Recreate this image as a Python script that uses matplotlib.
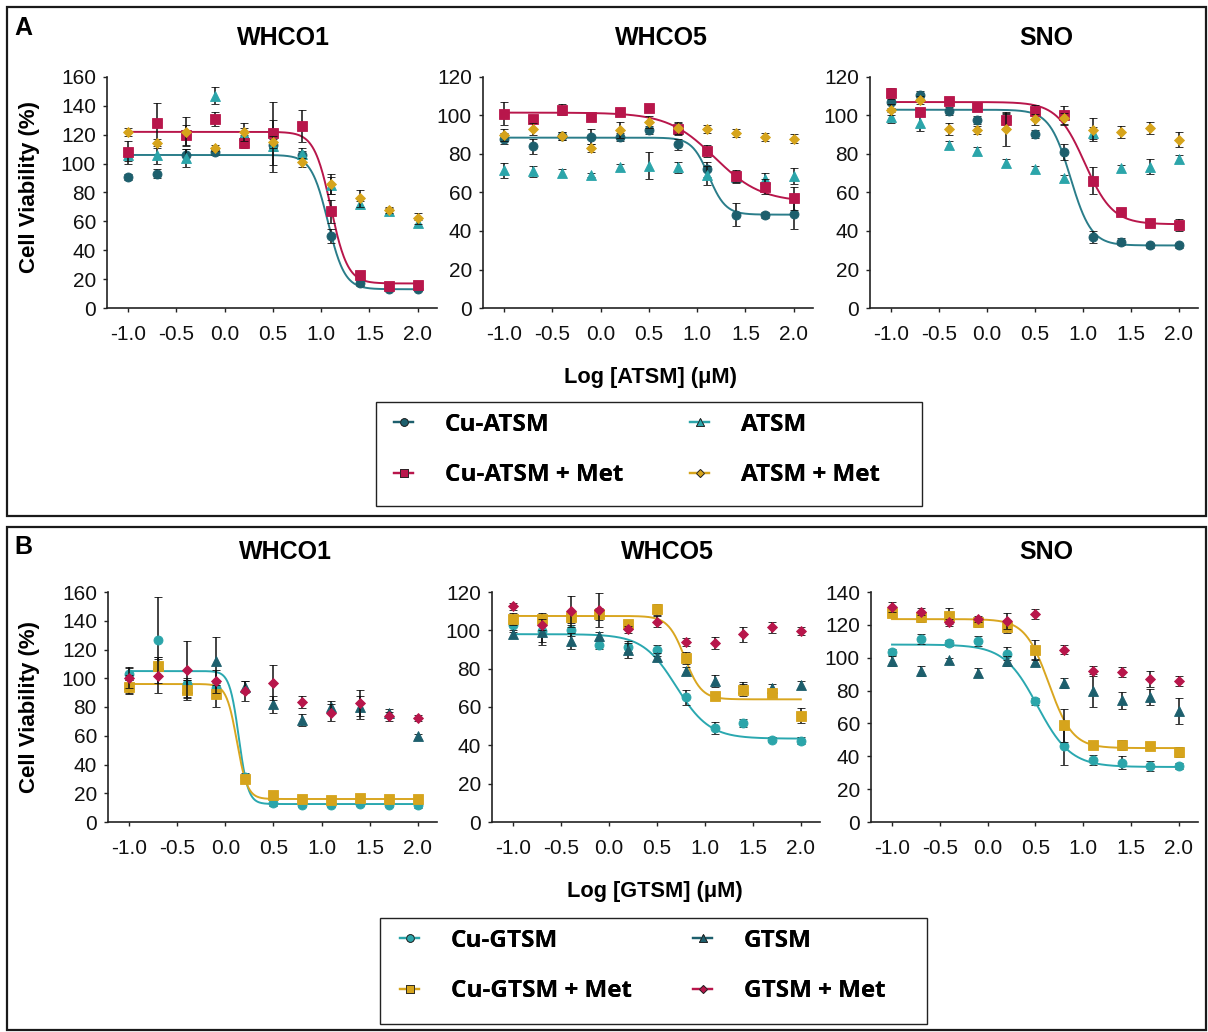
import numpy as np
import matplotlib
matplotlib.use("Agg")
import matplotlib.pyplot as plt
from matplotlib.lines import Line2D
from matplotlib.patches import Rectangle

# log concentration steps shared by all panels
log_conc = [-1.0, -0.7, -0.4, -0.1, 0.2, 0.5, 0.8, 1.1, 1.4, 1.7, 2.0]
cell_lines = ["WHCO1", "WHCO5", "SNO"]
atsm_series = ["Cu-ATSM", "ATSM", "Cu-ATSM + Met", "ATSM + Met"]
gtsm_series = ["Cu-GTSM", "GTSM", "Cu-GTSM + Met", "GTSM + Met"]

# panel A means / sem, series order as atsm_series
a_whco1_mean = [[91, 93, 106, 108, 117, 113, 106, 50, 17, 13, 13],
                [106, 106, 104, 147, 120, 112, 107, 85, 72, 67, 59],
                [108, 128, 120, 131, 114, 121, 126, 67, 23, 15, 16],
                [122, 114, 122, 111, 122, 115, 101, 86, 76, 68, 62]]
a_whco1_err = [[2, 3, 4, 2, 3, 4, 3, 5, 1.5, 1.5, 1.5],
               [4, 6, 6, 6, 5, 18, 4, 6, 2, 2, 2],
               [8, 14, 7, 5, 3, 22, 11, 8, 2, 1.5, 1.5],
               [3, 3, 10, 2, 6, 4, 3, 7, 6, 2, 4]]
a_whco5_mean = [[88, 84, 89.5, 89, 89, 92.5, 85, 72, 48.5, 48.5, 49],
                [71.5, 71, 70, 69, 73, 74, 73, 69, 68, 67, 68.5],
                [101, 98, 103, 99, 102, 104, 93, 81.5, 68.5, 63, 57],
                [90, 93, 89.5, 83, 92.5, 96.5, 93.5, 93, 91, 89, 88]]
a_whco5_err = [[3, 4, 2, 4, 2, 2, 3, 4, 6, 1.5, 8],
               [4, 3, 2, 1, 2, 7, 3, 5, 3, 3, 4],
               [6, 2, 3, 2, 2, 2, 3, 3, 3, 4, 6],
               [3, 3, 2, 2, 4, 3, 3, 2, 2, 2, 2.5]]
a_sno_mean = [[107, 110.5, 102.5, 97.5, 97, 90.5, 81, 37, 34.5, 32.5, 32.5],
              [99, 96, 84.5, 81.5, 75.5, 72, 67.5, 91, 72.5, 73.5, 77.5],
              [111.5, 102, 107.5, 104.5, 97.5, 102.5, 100, 66, 50, 44, 43],
              [103, 108, 93, 92.5, 93, 98, 98.5, 92.5, 91.5, 93.5, 87.5]]
a_sno_err = [[3, 2, 2, 2, 4, 2, 4, 3, 2, 1.5, 1.5],
             [3, 4, 2, 2, 2, 2, 1.5, 3, 2, 4, 2],
             [3, 2, 2, 2, 4, 3, 5, 7, 2, 2, 3],
             [3, 2, 3, 2, 9, 3, 3, 6, 3, 3, 4]]

# panel B means / sem, series order as gtsm_series
b_whco1_mean = [[103, 126.5, 96, 93, 31, 13, 12, 12, 12.5, 12, 11.5],
                [96, 110, 93, 112, 94, 82, 71, 80, 80, 75.5, 59.5],
                [94, 108.5, 92, 89, 30, 18.5, 16, 15.5, 16.5, 16, 16],
                [100.5, 101.5, 106, 98, 91, 97, 83.5, 76, 83, 73.5, 72.5]]
b_whco1_err = [[4, 30, 4, 4, 3, 2, 1.5, 1.5, 1.5, 1.5, 1.5],
               [6, 5, 6, 17, 4, 6, 4, 4, 8, 3, 1.5],
               [5, 6, 7, 9, 3, 2, 1.5, 1.5, 2, 1.5, 1.5],
               [7, 12, 20, 8, 7, 12, 4, 6, 9, 3, 2]]
b_whco5_mean = [[103, 99.5, 100, 92.5, 91.5, 89.5, 65, 49, 51.5, 43, 42.5],
                [98, 99, 94.5, 97, 89.5, 86, 79, 73.5, 70, 70, 71.5],
                [106, 106, 107, 108.5, 103.5, 111, 85.5, 65.5, 69, 67.5, 55.5],
                [112.5, 103, 110, 110.5, 100.5, 104.5, 94, 93.5, 98, 101.5, 99.5]]
b_whco5_err = [[4, 7, 3, 2, 3, 3, 4, 3, 2, 1.5, 2],
               [2, 5, 4, 2, 4, 2, 2, 3, 3, 2, 2],
               [3, 3, 3, 3, 2, 3, 3, 2, 3, 2, 4],
               [2, 3, 8, 9, 2, 3, 2, 3, 4, 3, 2]]
b_sno_mean = [[103.5, 111.5, 109, 110, 102.5, 73.5, 46.5, 38, 36, 34, 34],
              [98, 92, 98.5, 91, 98, 97.5, 84.5, 80, 74, 76, 67.5],
              [127, 125, 125.5, 122, 119, 104.5, 59, 47, 47, 46, 42.5],
              [131, 128, 121.5, 123.5, 122.5, 126.5, 105, 92, 91.5, 87, 86]]
b_sno_err = [[2, 3, 2, 3, 4, 2, 12, 3, 4, 3, 2],
             [3, 3, 1.5, 3, 3, 2, 3, 10, 5, 5, 8],
             [2, 3, 5, 3, 4, 6, 10, 2, 3, 2, 3],
             [3, 2, 2, 2, 5, 3, 3, 3, 3, 5, 3]]

# fitted dose-response parameters: (top, bottom, logIC50, hill)
a_whco1_fit = [(106, 13, 1.07, 5.0), (122, 17, 1.10, 5.0)]
a_whco5_fit = [(88.5, 48.5, 1.12, 5.0), (101.5, 55, 1.18, 1.8)]
a_sno_fit = [(103, 32.5, 0.87, 4.0), (107, 43.5, 1.02, 3.0)]
b_whco1_fit = [(105, 12.5, 0.14, 9.0), (96, 16, 0.12, 8.0)]
b_whco5_fit = [(98, 43.5, 0.70, 2.5), (107.5, 64, 0.79, 5.0)]
b_sno_fit = [(108, 33.5, 0.52, 2.5), (123.5, 45, 0.64, 3.5)]

a_ymax = [160, 120, 120]
b_ymax = [160, 120, 140]

DARK_TEAL = "#1d5f6d"
LIGHT_TEAL = "#2ba5aa"
CRIMSON = "#b8164b"
GOLD = "#d6a41c"
a_colors = [DARK_TEAL, LIGHT_TEAL, CRIMSON, GOLD]
b_colors = [LIGHT_TEAL, DARK_TEAL, GOLD, CRIMSON]
a_curve_colors = ["#2a7d8a", CRIMSON]
b_curve_colors = ["#2aa8b0", "#d9a620"]
a_markers = ["o", "^", "s", "D"]
b_markers = ["o", "^", "s", "D"]

W, H = 1208, 1032
FONT = "Liberation Sans"


def logistic(x, top, bottom, ic, hill):
    return bottom + (top - bottom) / (1 + 10 ** ((x - ic) * hill))


def add_ax(fig, left, top, right, bottom):
    return fig.add_axes([left / W, 1 - bottom / H, (right - left) / W, (bottom - top) / H])


def draw_panel(ax, means, errs, fits, colors, markers, curve_colors, ymax):
    xs = np.linspace(log_conc[0], log_conc[-1], 400)
    for k, (top, bottom, ic, hill) in enumerate(fits):
        ax.plot(xs, logistic(xs, top, bottom, ic, hill), color=curve_colors[k], lw=1.4, zorder=2)
    for i in range(4):
        ax.errorbar(log_conc, means[i], yerr=errs[i], fmt=markers[i], color=colors[i],
                    ms=6.5 if markers[i] != "D" else 5.5, mec=colors[i], mew=0.6,
                    ecolor="#111111", elinewidth=1.1, capsize=3.2, capthick=1.1, zorder=3 + i)
    ax.set_xlim(-1.22, 2.2)
    ax.set_ylim(0, ymax)
    ax.set_xticks([-1.0, -0.5, 0.0, 0.5, 1.0, 1.5, 2.0])
    ax.set_xticklabels(["-1.0", "-0.5", "0.0", "0.5", "1.0", "1.5", "2.0"])
    ax.set_yticks(np.arange(0, ymax + 1, 20))
    for s in ["top", "right"]:
        ax.spines[s].set_visible(False)
    for s in ["left", "bottom"]:
        ax.spines[s].set_linewidth(1.2)
        ax.spines[s].set_color("#222222")
    ax.tick_params(axis="both", direction="out", length=3, width=1, color="#222222",
                   labelsize=15)
    ax.tick_params(axis="x", pad=9)
    ax.tick_params(axis="y", pad=5)
    for lab in ax.get_xticklabels() + ax.get_yticklabels():
        lab.set_fontfamily(FONT)
        lab.set_color("#111111")


def add_legend(fig, series, colors, markers, box, col_x, rows_mid):
    # box frame drawn by hand, one frameless legend per column
    x0, y0, x1, y1 = box
    fig.patches.append(Rectangle((x0 / W, 1 - y1 / H), (x1 - x0) / W, (y1 - y0) / H,
                                 transform=fig.transFigure, fill=False, lw=1.0, ec="#222222"))
    handles = [Line2D([], [], color=colors[i], marker=markers[i], ms=5.5 if markers[i] != "D" else 4.5,
                      mec="#222222", mew=0.6, lw=1.6) for i in range(4)]
    for c, idx in enumerate([[0, 2], [1, 3]]):
        leg = fig.legend([handles[i] for i in idx], [series[i] for i in idx],
                         loc="center left", bbox_to_anchor=(col_x[c] / W, 1 - rows_mid / H),
                         frameon=False, prop={"family": "Open Sans", "weight": "bold", "size": 17.5},
                         handlelength=0.8, handletextpad=1.3, labelspacing=1.1,
                         borderpad=0, borderaxespad=0)
        fig.add_artist(leg)


def main():
    fig = plt.figure(figsize=(W / 100, H / 100), dpi=100)

    # panel frames
    fig.patches.append(Rectangle((7 / W, 1 - 516 / H), 1199 / W, 509 / H, transform=fig.transFigure,
                                 fill=False, lw=1.6, ec="#1a1a1a"))
    fig.patches.append(Rectangle((7 / W, 1 - 1030 / H), 1199 / W, 503 / H, transform=fig.transFigure,
                                 fill=False, lw=1.6, ec="#1a1a1a"))
    fig.text(14 / W, 1 - 28 / H, "A", fontsize=18, fontweight="bold", family=FONT, va="center")
    fig.text(14 / W, 1 - 547 / H, "B", fontsize=18, fontweight="bold", family=FONT, va="center")

    a_means = [a_whco1_mean, a_whco5_mean, a_sno_mean]
    a_errs = [a_whco1_err, a_whco5_err, a_sno_err]
    a_fits = [a_whco1_fit, a_whco5_fit, a_sno_fit]
    b_means = [b_whco1_mean, b_whco5_mean, b_sno_mean]
    b_errs = [b_whco1_err, b_whco5_err, b_sno_err]
    b_fits = [b_whco1_fit, b_whco5_fit, b_sno_fit]

    a_boxes = [(107, 77, 437, 308), (483, 77, 813, 308), (870, 77, 1198, 308)]
    b_boxes = [(108, 592, 437, 822), (492, 592, 820, 822), (871, 592, 1198, 822)]
    a_title_x = [283, 661, 1046]
    b_title_x = [285, 667, 1046]

    for j in range(3):
        ax = add_ax(fig, *a_boxes[j])
        draw_panel(ax, a_means[j], a_errs[j], a_fits[j], a_colors, a_markers, a_curve_colors, a_ymax[j])
        fig.text(a_title_x[j] / W, 1 - 38 / H, cell_lines[j], fontsize=18, fontweight="bold",
                 family=FONT, ha="center", va="center")
        ax = add_ax(fig, *b_boxes[j])
        draw_panel(ax, b_means[j], b_errs[j], b_fits[j], b_colors, b_markers, b_curve_colors, b_ymax[j])
        fig.text(b_title_x[j] / W, 1 - 552 / H, cell_lines[j], fontsize=18, fontweight="bold",
                 family=FONT, ha="center", va="center")

    fig.text(30 / W, 1 - 187 / H, "Cell Viability (%)", rotation=90, fontsize=16, fontweight="bold",
             family=FONT, ha="center", va="center")
    fig.text(30 / W, 1 - 707 / H, "Cell Viability (%)", rotation=90, fontsize=16, fontweight="bold",
             family=FONT, ha="center", va="center")
    fig.text(650 / W, 1 - 377 / H, "Log [ATSM] (\u03bcM)", fontsize=15.7, fontweight="bold",
             family=FONT, ha="center", va="center")
    fig.text(655 / W, 1 - 891 / H, "Log [GTSM] (\u03bcM)", fontsize=15.7, fontweight="bold",
             family=FONT, ha="center", va="center")

    add_legend(fig, atsm_series, a_colors, a_markers, (376, 402, 922, 506), (394, 690), 450)
    add_legend(fig, gtsm_series, b_colors, b_markers, (380, 918, 927, 1024), (400, 693), 966)

    fig.savefig("out.png", dpi=100, facecolor="white")


if __name__ == "__main__":
    main()
